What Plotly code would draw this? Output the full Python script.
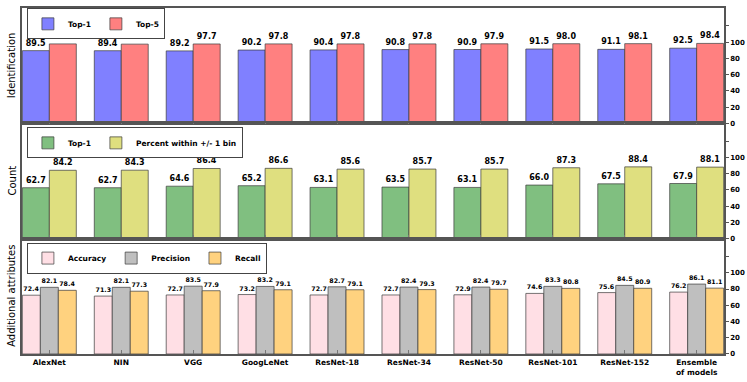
"""Grouped bar panels: identification, count and attribute accuracy per CNN model."""

import plotly.graph_objects as go
from plotly.subplots import make_subplots

models = ["AlexNet", "NIN", "VGG", "GoogLeNet", "ResNet-18", "ResNet-34",
          "ResNet-50", "ResNet-101", "ResNet-152", "Ensemble<br>of models"]

ident_top1 = [89.5, 89.4, 89.2, 90.2, 90.4, 90.8, 90.9, 91.5, 91.1, 92.5]
ident_top5 = [97.8, 97.5, 97.7, 97.8, 97.8, 97.8, 97.9, 98.0, 98.1, 98.4]

count_top1 = [62.7, 62.7, 64.6, 65.2, 63.1, 63.5, 63.1, 66.0, 67.5, 67.9]
count_within = [84.2, 84.3, 86.4, 86.6, 85.6, 85.7, 85.7, 87.3, 88.4, 88.1]

attr_accuracy = [72.4, 71.3, 72.7, 73.2, 72.7, 72.7, 72.9, 74.6, 75.6, 76.2]
attr_precision = [82.1, 82.1, 83.5, 83.2, 82.7, 82.4, 82.4, 83.3, 84.5, 86.1]
attr_recall = [78.4, 77.3, 77.9, 79.1, 79.1, 79.3, 79.7, 80.8, 80.9, 81.1]

y_ticks = [0, 20, 40, 60, 80, 100, 120]
y_ticktext = ["0", "20", "40", "60", "80", "100", ""]

FONT = "DejaVu Sans"
EDGE = "rgba(60, 60, 60, 0.7)"

panels = [
    (1, "legend", [("Top-1", ident_top1, "#8080ff"), ("Top-5", ident_top5, "#ff8080")], 8),
    (2, "legend2", [("Top-1", count_top1, "#80bf80"),
                    ("Percent within +/- 1 bin", count_within, "#dfdf7f")], 8),
    (3, "legend3", [("Accuracy", attr_accuracy, "#ffdfe5"), ("Precision", attr_precision, "#bfbfbf"),
                    ("Recall", attr_recall, "#ffd27f")], 6.3),
]

fig = make_subplots(rows=3, cols=1, shared_xaxes=True, vertical_spacing=0.0)

for row, legend, series, label_size in panels:
    for name, values, color in series:
        fig.add_bar(
            x=models,
            y=values,
            name=name,
            legend=legend,
            marker={"color": color, "line": {"color": EDGE, "width": 1}},
            texttemplate="<b>%{y:.1f}</b>",
            textposition="outside",
            textfont={"family": FONT, "size": label_size, "color": "black"},
            constraintext="none",
            cliponaxis=False,
            row=row,
            col=1,
        )

legend_style = {
    "orientation": "h",
    "x": 0.007,
    "xanchor": "left",
    "yanchor": "top",
    "bgcolor": "white",
    "bordercolor": "#444",
    "borderwidth": 1,
    "font": {"family": FONT, "size": 7.5, "color": "black", "weight": "bold"},
    "itemwidth": 30,
    "tracegroupgap": 0,
}

fig.update_layout(
    width=747,
    height=382,
    template="simple_white",
    barmode="group",
    bargap=0.25,
    bargroupgap=0,
    plot_bgcolor="white",
    paper_bgcolor="white",
    margin={"l": 22, "r": 23, "t": 8, "b": 28, "autoexpand": False},
    font={"family": FONT, "color": "black"},
    legend={**legend_style, "y": 0.999},
    legend2={**legend_style, "y": 0.655},
    legend3={**legend_style, "y": 0.322},
)

fig.update_xaxes(
    range=[-0.38, 9.38],
    automargin=False,
    showline=True,
    mirror=True,
    linecolor="#555",
    linewidth=1.5,
    ticks="inside",
    ticklen=4,
    tickcolor="#777",
    tickfont={"family": FONT, "size": 7.5, "color": "black", "weight": "bold"},
    showgrid=False,
)
fig.update_yaxes(
    range=[0, 142],
    automargin=False,
    side="right",
    tickvals=y_ticks,
    ticktext=y_ticktext,
    ticks="outside",
    ticklen=3,
    tickcolor="#555",
    tickfont={"family": FONT, "size": 7, "color": "black", "weight": "bold"},
    showline=True,
    mirror=True,
    linecolor="#555",
    linewidth=1.5,
    showgrid=False,
    zeroline=False,
)

for row, label in [(1, "Identification"), (2, "Count"), (3, "Additional attributes")]:
    domain = fig.layout[f"yaxis{'' if row == 1 else row}"].domain
    fig.add_annotation(
        text=label,
        textangle=-90,
        xref="paper",
        yref="paper",
        x=0,
        xanchor="right",
        xshift=-3,
        y=(domain[0] + domain[1]) / 2,
        yanchor="middle",
        showarrow=False,
        font={"family": FONT, "size": 10, "color": "black"},
    )

# drop the browser's default body margin so the 747x382 figure fills the window
fig.write_html(
    "out.html",
    config={"displayModeBar": False},
    post_script="document.body.style.margin = '0';",
)
